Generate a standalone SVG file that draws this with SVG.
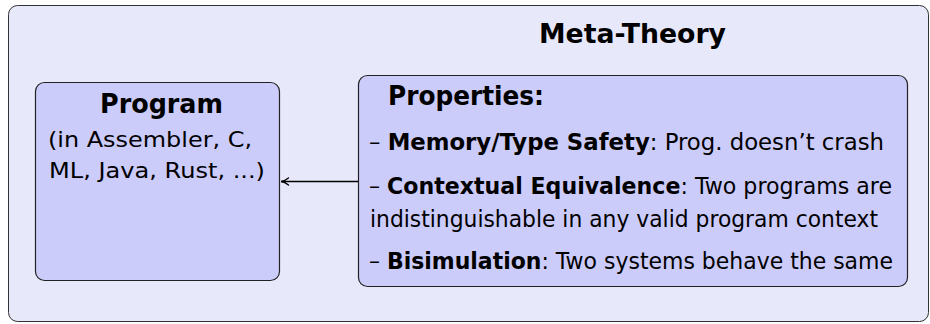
<svg xmlns="http://www.w3.org/2000/svg" width="930" height="324" viewBox="0 0 930 324">
  <defs>
    <style>
      .t { font-family: "DejaVu Sans", "Liberation Sans", sans-serif; fill: #000; }
      .b { font-weight: bold; }
      .outer { fill: #e8e8fb; stroke: #333; stroke-width: 1; }
      .inner { fill: #ccccfb; stroke: #222; stroke-width: 1.2; }
      .edge { stroke: #000; stroke-width: 1.5; fill: none; }
    </style>
    <marker id="arrow" viewBox="0 0 10 10" refX="9" refY="5" markerWidth="10" markerHeight="10" orient="auto" markerUnits="userSpaceOnUse">
      <path d="M2,1.5 Q6,4.6 9.5,5 Q6,5.4 2,8.5" fill="none" stroke="#000" stroke-width="1.3" stroke-linecap="round"/>
    </marker>
  </defs>

  <g id="meta-theory">
    <rect class="outer" x="8.5" y="5.5" width="920" height="316" rx="9"/>
    <text class="t b" x="539" y="43" font-size="26" textLength="187" lengthAdjust="spacingAndGlyphs">Meta-Theory</text>
  </g>

  <g id="program">
    <rect class="inner" x="35.5" y="82.5" width="244" height="198" rx="9"/>
    <text class="t b" x="100" y="113" font-size="26" textLength="123" lengthAdjust="spacingAndGlyphs">Program</text>
    <text class="t" x="48" y="147" font-size="22" textLength="204" lengthAdjust="spacingAndGlyphs">(in Assembler, C,</text>
    <text class="t" x="49" y="178" font-size="22" textLength="216" lengthAdjust="spacingAndGlyphs">ML, Java, Rust, ...)</text>
  </g>

  <g id="properties">
    <rect class="inner" x="358.5" y="75.5" width="549" height="211" rx="9"/>
    <text class="t b" x="388" y="105" font-size="27" textLength="156" lengthAdjust="spacingAndGlyphs">Properties:</text>
    <text class="t" x="369" y="150" font-size="23" textLength="515" lengthAdjust="spacingAndGlyphs">– <tspan class="b">Memory/Type Safety</tspan>: Prog.  doesn’t crash</text>
    <text class="t" x="369" y="194" font-size="23" textLength="523" lengthAdjust="spacingAndGlyphs">– <tspan class="b">Contextual Equivalence</tspan>: Two programs are</text>
    <text class="t" x="370" y="227" font-size="23" textLength="508" lengthAdjust="spacingAndGlyphs">indistinguishable in any valid program context</text>
    <text class="t" x="369" y="269" font-size="23" textLength="524" lengthAdjust="spacingAndGlyphs">– <tspan class="b">Bisimulation</tspan>: Two systems behave the same</text>
  </g>

  <g id="connectors">
    <line class="edge" x1="358" y1="181.5" x2="281.5" y2="181.5" marker-end="url(#arrow)"/>
  </g>
</svg>
